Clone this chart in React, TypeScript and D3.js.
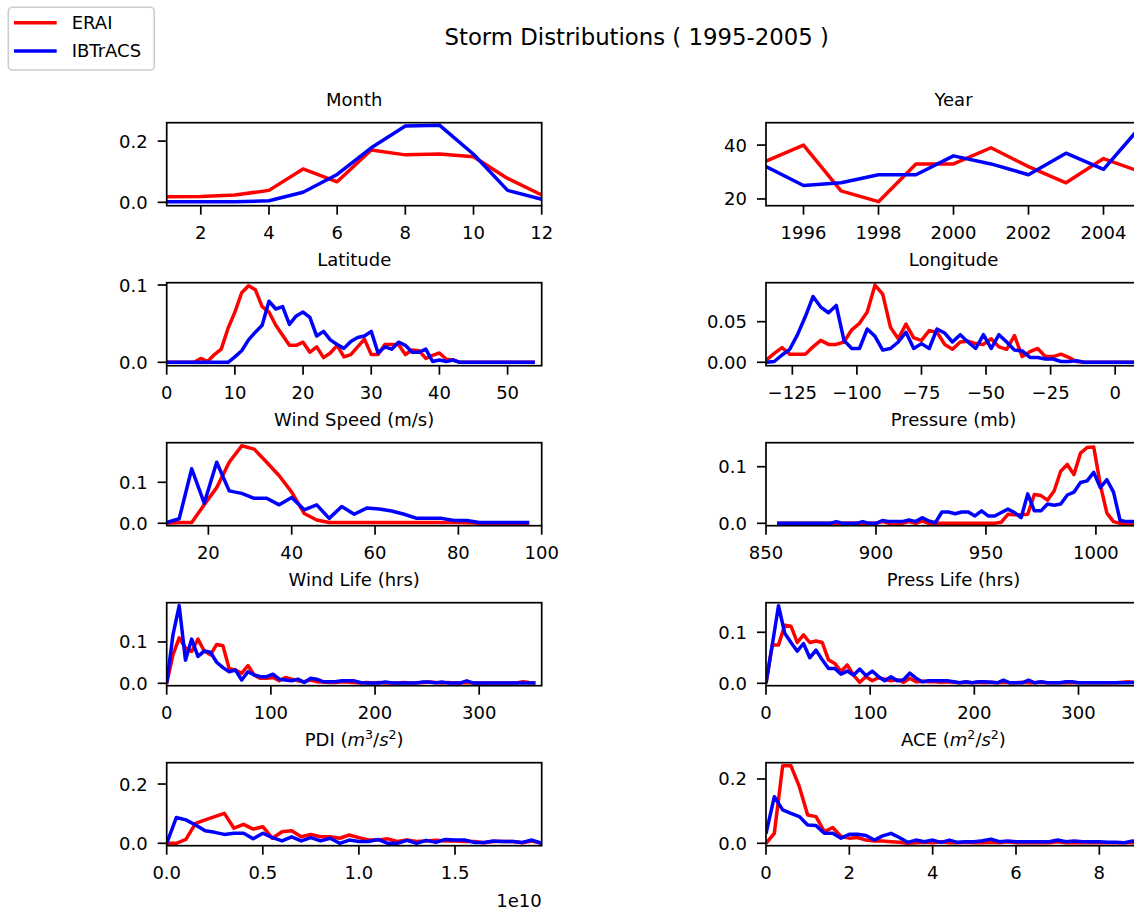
import React from "react";
import * as d3 from "d3";

// Figure size and subplot geometry (pixels)
const W = 1134;
const H = 910;
const AX_W = 375;
const AX_H = 83;
const COL_X = [166.7, 766];
const ROW_Y = [122.7, 282.7, 442.7, 602.7, 762.7];
const FONT = "DejaVu Sans, sans-serif";
const ERAI_COLOR = "#ff0000";
const IBTRACS_COLOR = "#0000ff";

// Month
const monthBins = [1, 2, 3, 4, 5, 6, 7, 8, 9, 10, 11, 12];
const monthErai = [0.018, 0.019, 0.024, 0.039, 0.109, 0.067, 0.171, 0.155, 0.158, 0.149, 0.078, 0.024];
const monthIbtracs = [0.002, 0.002, 0.002, 0.005, 0.033, 0.091, 0.178, 0.249, 0.252, 0.157, 0.039, 0.01];

// Year (storm counts)
const yearBins = [1995, 1996, 1997, 1998, 1999, 2000, 2001, 2002, 2003, 2004, 2005];
const yearErai = [34, 40, 23, 19, 33, 33, 39, 32, 26, 35, 30];
const yearIbtracs = [32, 25, 26, 29, 29, 36, 33, 29, 37, 31, 47];

// Latitude
const latBins = d3.range(0, 55, 1);
const latErai = [
  0, 0, 0, 0, 0, 0.005, 0.001, 0.01, 0.017, 0.044, 0.065, 0.09, 0.099, 0.094, 0.072, 0.065,
  0.048, 0.035, 0.022, 0.022, 0.026, 0.013, 0.02, 0.006, 0.012, 0.022, 0.007, 0.01, 0.02, 0.03,
  0.01, 0.01, 0.023, 0.023, 0.023, 0.01, 0.016, 0.015, 0.005, 0.009, 0.012, 0.004, 0.003,
  0, 0, 0, 0, 0, 0, 0, 0, 0, 0, 0, 0,
];
const latIbtracs = [
  0, 0, 0, 0, 0, 0, 0, 0, 0, 0, 0.007, 0.015, 0.029, 0.039, 0.048, 0.079, 0.069, 0.072, 0.049,
  0.06, 0.065, 0.058, 0.034, 0.04, 0.029, 0.023, 0.018, 0.027, 0.032, 0.034, 0.04, 0.012, 0.02,
  0.017, 0.026, 0.022, 0.013, 0.013, 0.017, 0.001, 0.003, 0.001, 0.003,
  0, 0, 0, 0, 0, 0, 0, 0, 0, 0, 0, 0,
];

// Longitude
const lonBins = d3.range(-135, 10, 3);
const lonErai = [
  0.003, 0.011, 0.018, 0.01, 0.01, 0.01, 0.019, 0.027, 0.022, 0.022, 0.025, 0.04, 0.048, 0.062,
  0.095, 0.084, 0.043, 0.029, 0.047, 0.03, 0.027, 0.039, 0.037, 0.022, 0.016, 0.025, 0.026,
  0.023, 0.022, 0.029, 0.019, 0.016, 0.033, 0.007, 0.013, 0.017, 0.007, 0.007, 0.01, 0.006,
  0.001, 0, 0, 0, 0, 0, 0, 0, 0,
];
const lonIbtracs = [
  0, 0.001, 0.009, 0.016, 0.034, 0.056, 0.081, 0.068, 0.061, 0.07, 0.027, 0.017, 0.017, 0.041,
  0.032, 0.015, 0.017, 0.025, 0.037, 0.017, 0.023, 0.017, 0.041, 0.036, 0.025, 0.034, 0.025,
  0.017, 0.034, 0.017, 0.034, 0.025, 0.015, 0.014, 0.006, 0.006, 0.004, 0.004, 0.001, 0.001,
  0.002, 0, 0, 0, 0, 0, 0, 0, 0,
];

// Wind speed (m/s)
const windBins = d3.range(10, 100, 3);
const windErai = [
  0, 0.002, 0.002, 0.045, 0.087, 0.149, 0.189, 0.181, 0.149, 0.116, 0.076, 0.024, 0.008, 0.002,
  0.002, 0.002, 0.002, 0.002, 0.002, 0.002, 0.002, 0.002, 0.002, 0.002, 0.001, 0, 0, 0, 0, 0,
];
const windIbtracs = [
  0.002, 0.011, 0.133, 0.049, 0.149, 0.079, 0.073, 0.061, 0.061, 0.045, 0.063, 0.033, 0.045,
  0.012, 0.041, 0.022, 0.037, 0.035, 0.03, 0.022, 0.012, 0.012, 0.012, 0.007, 0.007, 0.002,
  0.002, 0.002, 0.002, 0.002,
];

// Pressure (mb)
const pressBins = d3.range(855, 1021, 3);
const pressErai = [
  0, 0, 0, 0, 0, 0, 0, 0, 0, 0, 0, 0, 0, 0, 0, 0, 0.003, 0, 0, 0, 0.003, 0, 0.004,
  0, 0, 0, 0, 0, 0, 0, 0, 0, 0, 0, 0.002, 0.016, 0.015, 0.015, 0.016, 0.051, 0.049, 0.041,
  0.057, 0.092, 0.104, 0.086, 0.124, 0.134, 0.135, 0.068, 0.018, 0.003, 0, 0, 0, 0,
];
const pressIbtracs = [
  0, 0, 0, 0, 0, 0, 0, 0, 0, 0.003, 0, 0, 0, 0.003, 0, 0, 0.005, 0.003, 0.003, 0.003, 0.006,
  0.003, 0.01, 0.004, 0.001, 0.02, 0.02, 0.017, 0.02, 0.02, 0.013, 0.022, 0.013, 0.013, 0.019,
  0.025, 0.019, 0.01, 0.052, 0.022, 0.022, 0.034, 0.032, 0.034, 0.05, 0.055, 0.072, 0.075,
  0.09, 0.063, 0.077, 0.055, 0.005, 0.003, 0.003, 0.003,
];

// Lifetimes (hrs)
const lifeBins = d3.range(0, 355, 6);
const windLifeErai = [
  0, 0.069, 0.11, 0.086, 0.077, 0.107, 0.078, 0.069, 0.094, 0.091, 0.035, 0.032, 0.024, 0.043,
  0.02, 0.012, 0.012, 0.014, 0.006, 0.014, 0.01, 0.006, 0.004, 0.008, 0.004, 0.003, 0.002,
  0.002, 0.004, 0.003, 0.002, 0.001, 0.002, 0.001, 0.002, 0.001, 0.001, 0.001, 0.002, 0.001,
  0.001, 0.002, 0.003, 0.002, 0.001, 0.002, 0.001, 0.001, 0.002, 0.001, 0.001, 0.001, 0.001,
  0.001, 0.001, 0.001, 0.001, 0.004, 0.002, 0.001,
];
const windLifeIbtracs = [
  0, 0.117, 0.188, 0.056, 0.107, 0.065, 0.078, 0.075, 0.051, 0.038, 0.028, 0.032, 0.008, 0.028,
  0.02, 0.016, 0.016, 0.022, 0.01, 0.008, 0.006, 0.01, 0.002, 0.012, 0.01, 0.004, 0.004, 0.004,
  0.006, 0.006, 0.006, 0.002, 0.001, 0.001, 0.001, 0.003, 0.001, 0.001, 0.001, 0.001, 0.001,
  0.003, 0.003, 0.001, 0.003, 0.001, 0.001, 0.001, 0.006, 0.001, 0.001, 0.001, 0.001, 0.001,
  0.001, 0.001, 0.001, 0.001, 0.001, 0.001,
];
const pressLifeErai = [
  0, 0.075, 0.075, 0.114, 0.112, 0.08, 0.095, 0.08, 0.083, 0.08, 0.046, 0.039, 0.023, 0.036,
  0.016, 0.002, 0.013, 0.005, 0.011, 0.008, 0.005, 0.007, 0.002, 0.01, 0.003, 0.004, 0.003,
  0.003, 0.002, 0.003, 0.002, 0.001, 0.002, 0.001, 0.002, 0.001, 0.002, 0.001, 0.002, 0.001,
  0.001, 0.002, 0.001, 0.001, 0.002, 0.001, 0.001, 0.001, 0.001, 0.001, 0.001, 0.001, 0.001,
  0.001, 0.001, 0.001, 0.001, 0.002, 0.003, 0.001,
];
const pressLifeIbtracs = [
  0, 0.075, 0.152, 0.098, 0.08, 0.063, 0.078, 0.05, 0.065, 0.046, 0.029, 0.029, 0.018, 0.024,
  0.016, 0.028, 0.015, 0.024, 0.013, 0.005, 0.013, 0.005, 0.007, 0.02, 0.01, 0.003, 0.005,
  0.005, 0.005, 0.005, 0.003, 0.001, 0.003, 0.001, 0.003, 0.003, 0.002, 0.001, 0.006, 0.001,
  0.001, 0.001, 0.006, 0.001, 0.003, 0.001, 0.001, 0.001, 0.003, 0.003, 0.001, 0.001, 0.001,
  0.001, 0.001, 0.001, 0.001, 0.001, 0.001, 0.002,
];

// PDI (x in units of 1e10 m^3/s^2)
const pdiBins = d3.range(0, 40).map((i) => i * 0.05);
const pdiErai = [
  0, 0, 0.013, 0.067, 0.079, 0.09, 0.101, 0.051, 0.064, 0.048, 0.056, 0.017, 0.039, 0.042,
  0.022, 0.03, 0.022, 0.022, 0.017, 0.028, 0.019, 0.011, 0.011, 0.015, 0.006, 0.011, 0.006,
  0.008, 0.01, 0.008, 0.008, 0.006, 0.006, 0.002, 0.006, 0.006, 0.006, 0.002, 0.008, 0,
];
const pdiIbtracs = [
  0, 0.087, 0.079, 0.062, 0.042, 0.037, 0.03, 0.034, 0.034, 0.015, 0.034, 0.019, 0.008, 0.022,
  0.008, 0.019, 0.008, 0.017, 0, 0.011, 0.006, 0.006, 0.013, 0, 0, 0.01, 0, 0.01, 0.003, 0.013,
  0.011, 0.011, 0.003, 0.003, 0.008, 0.006, 0.006, 0.003, 0.011, 0,
];

// ACE
const aceBins = d3.range(0, 46).map((i) => i * 0.2);
const aceErai = [
  0, 0.031, 0.241, 0.241, 0.176, 0.088, 0.083, 0.036, 0.049, 0.021, 0.016, 0.018, 0.01, 0.007,
  0.007, 0.005, 0.003, 0, 0.002, 0.003, 0.002, 0.005, 0.002, 0.002, 0.003, 0.002, 0.002, 0.003,
  0.002, 0.005, 0.002, 0.002, 0.002, 0.002, 0.002, 0.005, 0.002, 0.002, 0.002, 0.002, 0.002,
  0.002, 0.002, 0.002, 0.002, 0.002,
];
const aceIbtracs = [
  0.03, 0.145, 0.104, 0.093, 0.083, 0.057, 0.055, 0.031, 0.031, 0.016, 0.028, 0.028, 0.024,
  0.01, 0.023, 0.031, 0.018, 0.003, 0.01, 0.005, 0.01, 0.003, 0.01, 0.003, 0.005, 0.005, 0.008,
  0.013, 0.005, 0.007, 0.005, 0.005, 0.005, 0.005, 0.005, 0.01, 0.005, 0.007, 0.005, 0.005,
  0.005, 0.003, 0.003, 0.002, 0.007, 0.005,
];

const legendLabels = ["ERAI", "IBTrACS"];
const figTitle = "Storm Distributions ( 1995-2005 )";

type Panel = {
  title: React.ReactNode;
  bins: number[];
  erai: number[];
  ibtracs: number[];
  xDomain: [number, number];
  yDomain: [number, number];
  xTicks: number[];
  yTicks: number[];
  xFmt: (v: number) => string;
  yFmt: (v: number) => string;
  col: number;
  row: number;
};

const minus = (s: string) => s.replace("-", "\u2212");
const intFmt = (v: number) => minus(d3.format("d")(v));
const f1 = d3.format(".1f");
const f2 = d3.format(".2f");

const mathTitle = (name: string, p: string) => (
  <>
    <tspan>{name} (</tspan>
    <tspan fontStyle="italic">m</tspan>
    <tspan dy={-7} fontSize={12.6}>{p}</tspan>
    <tspan dy={7}>/</tspan>
    <tspan fontStyle="italic">s</tspan>
    <tspan dy={-7} fontSize={12.6}>2</tspan>
    <tspan dy={7}>)</tspan>
  </>
);

const panels: Panel[] = [
  { title: "Month", bins: monthBins, erai: monthErai, ibtracs: monthIbtracs, xDomain: [1, 12], yDomain: [-0.011, 0.26], xTicks: [2, 4, 6, 8, 10, 12], yTicks: [0, 0.2], xFmt: intFmt, yFmt: f1, col: 0, row: 0 },
  { title: "Year", bins: yearBins, erai: yearErai, ibtracs: yearIbtracs, xDomain: [1995, 2005], yDomain: [17.5, 48.3], xTicks: [1996, 1998, 2000, 2002, 2004], yTicks: [20, 40], xFmt: intFmt, yFmt: intFmt, col: 1, row: 0 },
  { title: "Latitude", bins: latBins, erai: latErai, ibtracs: latIbtracs, xDomain: [0, 55], yDomain: [-0.0044, 0.103], xTicks: [0, 10, 20, 30, 40, 50], yTicks: [0, 0.1], xFmt: intFmt, yFmt: f1, col: 0, row: 1 },
  { title: "Longitude", bins: lonBins, erai: lonErai, ibtracs: lonIbtracs, xDomain: [-135.2, 10], yDomain: [-0.0042, 0.098], xTicks: [-125, -100, -75, -50, -25, 0], yTicks: [0, 0.05], xFmt: intFmt, yFmt: f2, col: 1, row: 1 },
  { title: "Wind Speed (m/s)", bins: windBins, erai: windErai, ibtracs: windIbtracs, xDomain: [10, 100], yDomain: [-0.0059, 0.1966], xTicks: [20, 40, 60, 80, 100], yTicks: [0, 0.1], xFmt: intFmt, yFmt: f1, col: 0, row: 2 },
  { title: "Pressure (mb)", bins: pressBins, erai: pressErai, ibtracs: pressIbtracs, xDomain: [850, 1020.5], yDomain: [-0.0042, 0.1424], xTicks: [850, 900, 950, 1000], yTicks: [0, 0.1], xFmt: intFmt, yFmt: f1, col: 1, row: 2 },
  { title: "Wind Life (hrs)", bins: lifeBins, erai: windLifeErai, ibtracs: windLifeIbtracs, xDomain: [0, 360], yDomain: [-0.0058, 0.195], xTicks: [0, 100, 200, 300], yTicks: [0, 0.1], xFmt: intFmt, yFmt: f1, col: 0, row: 3 },
  { title: "Press Life (hrs)", bins: lifeBins, erai: pressLifeErai, ibtracs: pressLifeIbtracs, xDomain: [0, 360], yDomain: [-0.0047, 0.158], xTicks: [0, 100, 200, 300], yTicks: [0, 0.1], xFmt: intFmt, yFmt: f1, col: 1, row: 3 },
  { title: mathTitle("PDI", "3"), bins: pdiBins, erai: pdiErai, ibtracs: pdiIbtracs, xDomain: [0, 1.951], yDomain: [-0.0081, 0.272], xTicks: [0, 0.5, 1.0, 1.5], yTicks: [0, 0.2], xFmt: f1, yFmt: f1, col: 0, row: 4 },
  { title: mathTitle("ACE", "2"), bins: aceBins, erai: aceErai, ibtracs: aceIbtracs, xDomain: [0, 9], yDomain: [-0.0075, 0.2507], xTicks: [0, 2, 4, 6, 8], yTicks: [0, 0.2], xFmt: intFmt, yFmt: f1, col: 1, row: 4 },
];

function Subplot({ p, idx }: { p: Panel; idx: number }) {
  const x = d3.scaleLinear().domain(p.xDomain).range([0, AX_W]);
  const y = d3.scaleLinear().domain(p.yDomain).range([AX_H, 0]);
  const line = d3
    .line<number>()
    .x((_, i) => x(p.bins[i]))
    .y((d) => y(d));
  const clipId = `clip-${idx}`;
  return (
    <g transform={`translate(${COL_X[p.col]},${ROW_Y[p.row]})`}>
      <clipPath id={clipId}>
        <rect x={0} y={0} width={AX_W} height={AX_H} />
      </clipPath>
      <text x={AX_W / 2} y={-17} textAnchor="middle" fontSize={18}>
        {p.title}
      </text>
      <g clipPath={`url(#${clipId})`} fill="none" strokeWidth={3.5} strokeLinejoin="round">
        <path d={line(p.erai) || ""} stroke={ERAI_COLOR} />
        <path d={line(p.ibtracs) || ""} stroke={IBTRACS_COLOR} />
      </g>
      {p.xTicks.map((t) => (
        <g key={`x${t}`} transform={`translate(${x(t)},0)`}>
          <line y1={AX_H} y2={AX_H + 9} stroke="#000" strokeWidth={1.7} />
          <text y={AX_H + 33} textAnchor="middle" fontSize={18}>
            {p.xFmt(t)}
          </text>
        </g>
      ))}
      {p.yTicks.map((t) => (
        <g key={`y${t}`} transform={`translate(0,${y(t)})`}>
          <line x1={-9} x2={0} stroke="#000" strokeWidth={1.7} />
          <text x={-19} dy="0.36em" textAnchor="end" fontSize={18}>
            {p.yFmt(t)}
          </text>
        </g>
      ))}
      <rect x={0} y={0} width={AX_W} height={AX_H} fill="none" stroke="#000" strokeWidth={1.7} />
    </g>
  );
}

export default function App() {
  return (
    <div style={{ position: "absolute", left: 0, top: 0 }}>
      <svg width={W} height={H} fontFamily={FONT} style={{ display: "block", background: "#fff" }}>
        <rect width={W} height={H} fill="#fff" />
        <text x={636.7} y={45} textAnchor="middle" fontSize={22.8}>
          {figTitle}
        </text>
        {panels.map((p, i) => (
          <Subplot key={i} p={p} idx={i} />
        ))}
        {/* offset text for the PDI axis */}
        <text x={COL_X[0] + AX_W} y={907} textAnchor="end" fontSize={18}>
          1e10
        </text>
        {/* legend */}
        <g>
          <rect x={8.3} y={7.3} width={146} height={62.7} rx={4} fill="#fff" fillOpacity={0.8} stroke="#cccccc" strokeWidth={1.6} />
          {legendLabels.map((lab, i) => (
            <g key={lab} transform={`translate(0,${22.7 + i * 28.3})`}>
              <line x1={14} x2={56.7} stroke={i === 0 ? ERAI_COLOR : IBTRACS_COLOR} strokeWidth={3.5} />
              <text x={71.7} dy="0.36em" fontSize={18}>
                {lab}
              </text>
            </g>
          ))}
        </g>
      </svg>
    </div>
  );
}
